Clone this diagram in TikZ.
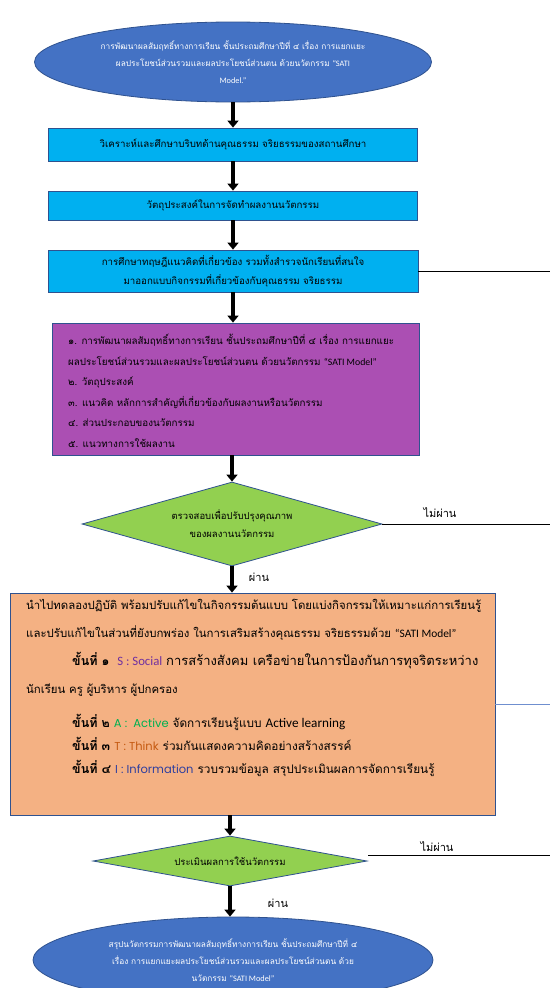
\documentclass[tikz,border=0pt]{standalone}
\usepackage{fontspec}
\setmainfont[Script=Thai]{Loma}
\newfontfamily\eng{Carlito}
\newfontfamily\engB[Scale=1.12]{Carlito}
\newfontfamily\geo{Poppins}
\usetikzlibrary{shapes.geometric,arrows.meta}
\definecolor{ellblue}{HTML}{4472C4}
\definecolor{edgeblue}{HTML}{2F528F}
\definecolor{cyanbox}{HTML}{00B0F0}
\definecolor{purplebox}{HTML}{AB4FB3}
\definecolor{greendia}{HTML}{92D050}
\definecolor{orangebox}{HTML}{F4B183}
\definecolor{socialc}{HTML}{7030A0}
\definecolor{activec}{HTML}{00B050}
\definecolor{thinkc}{HTML}{C55A11}
\definecolor{infoc}{HTML}{2F3F9F}
\definecolor{sideline}{HTML}{6F8FCF}
\newcommand\stepno[1]{{\fontsize{12.5}{23}\selectfont\textbf{ขั้นที่ #1}}}
\tikzset{
  ell/.style={ellipse, draw=edgeblue, line width=0.8pt, fill=ellblue, text=white, inner sep=0pt, align=center, font=\fontsize{8.3}{17}\selectfont},
  cbox/.style={rectangle, draw=edgeblue, line width=0.8pt, fill=cyanbox, inner sep=0pt, align=center, font=\fontsize{9.7}{19.5}\selectfont},
  pbox/.style={rectangle, draw=edgeblue, line width=0.8pt, fill=purplebox, inner sep=0pt},
  obox/.style={rectangle, draw=edgeblue, line width=0.8pt, fill=orangebox, inner sep=0pt},
  dia/.style={diamond, draw=edgeblue, line width=0.8pt, fill=greendia, inner sep=0pt, align=center, font=\fontsize{9.5}{18}\selectfont},
  arr/.style={-{Triangle[width=11pt,length=7pt]}, line width=3.5pt, black},
  sidel/.style={line width=0.8pt, black},
  lbl/.style={font=\fontsize{11}{13}\selectfont, inner sep=0pt}
}
\begin{document}
\begin{tikzpicture}[x=1pt,y=-1pt]
\useasboundingbox (0,0) rectangle (550,988);
\clip (0,0) rectangle (550,988);
\coordinate (edgeR) at (550,0);

\node[ell, minimum width=397pt, minimum height=80pt] (top) at (233,62)
 {การพัฒนาผลสัมฤทธิ์ทางการเรียน ชั้นประถมศึกษาปีที่ ๔ เรื่อง การแยกแยะ\\
  ผลประโยชน์ส่วนรวมและผลประโยชน์ส่วนตน ด้วยนวัตกรรม {\eng“SATI}\\
  {\eng Model.”}};

\node[cbox, minimum width=369pt, minimum height=33pt] (b1) at (233,144.5)
 {วิเคราะห์และศึกษาบริบทด้านคุณธรรม จริยธรรมของสถานศึกษา};
\node[cbox, minimum width=369pt, minimum height=29pt] (b2) at (233,205.5)
 {วัตถุประสงค์ในการจัดทำผลงานนวัตกรรม};
\node[cbox, minimum width=370pt, minimum height=42pt] (b3) at (233,271)
 {การศึกษาทฤษฎีแนวคิดที่เกี่ยวข้อง รวมทั้งสำรวจนักเรียนที่สนใจ\\
  มาออกแบบกิจกรรมที่เกี่ยวข้องกับคุณธรรม จริยธรรม};

\node[pbox, minimum width=367pt, minimum height=132pt] (pb) at (236,389) {};
\node[anchor=north west, align=left, inner sep=0pt, font=\fontsize{9.8}{20.6}\selectfont] (pt) at (68,334)
 {๑. การพัฒนาผลสัมฤทธิ์ทางการเรียน ชั้นประถมศึกษาปีที่ ๔ เรื่อง การแยกแยะ\\
  ผลประโยชน์ส่วนรวมและผลประโยชน์ส่วนตน ด้วยนวัตกรรม {\eng“SATI Model”}\\
  ๒. วัตถุประสงค์\\
  ๓. แนวคิด หลักการสำคัญที่เกี่ยวข้องกับผลงานหรือนวัตกรรม\\
  ๔. ส่วนประกอบของนวัตกรรม\\
  ๕. แนวทางการใช้ผลงาน};

\node[dia, minimum width=300pt, minimum height=84pt, aspect=3.57] (d1) at (232,524)
 {ตรวจสอบเพื่อปรับปรุงคุณภาพ\\ของผลงานนวัตกรรม};

\node[obox, minimum width=485pt, minimum height=222pt] (ob) at (252.5,704) {};
\node[anchor=north west, align=left, inner sep=0pt, font=\fontsize{11.4}{28}\selectfont] (ot1) at (26,599)
 {นำไปทดลองปฏิบัติ พร้อมปรับแก้ไขในกิจกรรมต้นแบบ โดยแบ่งกิจกรรมให้เหมาะแก่การเรียนรู้\\
  และปรับแก้ไขในส่วนที่ยังบกพร่อง ในการเสริมสร้างคุณธรรม จริยธรรมด้วย {\eng“SATI Model”}\\
  \hspace*{46pt}\stepno{๑}\ \ {\engB\color{socialc}S : Social} {\fontsize{13}{28}\selectfont การสร้างสังคม เครือข่ายในการป้องกันการทุจริตระหว่าง}\\
  นักเรียน ครู ผู้บริหาร ผู้ปกครอง};
\node[anchor=north west, align=left, inner sep=0pt, font=\fontsize{11.8}{23}\selectfont] (ot2) at (72,714)
 {\stepno{๒} {\geo\fontsize{11.5}{23}\selectfont\color{activec}A :\ \ Active} จัดการเรียนรู้แบบ {\engB Active learning}\\
  \stepno{๓} {\geo\fontsize{11.5}{23}\selectfont\color{thinkc}T : Think} ร่วมกันแสดงความคิดอย่างสร้างสรรค์\\
  \stepno{๔} {\geo\fontsize{11.5}{23}\selectfont\color{infoc}I : Information} รวบรวมข้อมูล สรุปประเมินผลการจัดการเรียนรู้};

\node[dia, minimum width=274pt, minimum height=50pt, aspect=5.48] (d2) at (230,861)
 {ประเมินผลการใช้นวัตกรรม};

\node[ell, minimum width=400pt, minimum height=86pt] (bot) at (233,960)
 {สรุปนวัตกรรมการพัฒนาผลสัมฤทธิ์ทางการเรียน ชั้นประถมศึกษาปีที่ ๔\\
  เรื่อง การแยกแยะผลประโยชน์ส่วนรวมและผลประโยชน์ส่วนตน ด้วย\\
  นวัตกรรม {\eng“SATI Model”}};

% arrows
\draw[arr] (top.south) -- (b1.north);
\draw[arr] (b1.south) -- (b2.north);
\draw[arr] (b2.south) -- (b3.north);
\draw[arr] (b3.south) -- (b3.south |- pb.north);
\draw[arr] (d1.north |- pb.south) -- (d1.north);
\draw[arr] (d1.south) -- (d1.south |- ob.north);
\draw[arr] (d2.north |- ob.south) -- (d2.north);
\draw[arr] (d2.south) -- (d2.south |- bot.north);

% side lines
\draw[sidel] (b3.east) -- (b3.east -| edgeR);
\draw[sidel] (d1.east) -- (d1.east -| edgeR);
\draw[line width=0.8pt, sideline] (ob.east) -- (ob.east -| edgeR);
\draw[sidel] ([xshift=1pt,yshift=6pt]d2.east) -- ([yshift=6pt]d2.east -| edgeR);

% labels
\node[lbl] (np1) at (440,513) {ไม่ผ่าน};
\node[lbl] (p1) at (259,577) {ผ่าน};
\node[lbl] (np2) at (437,847) {ไม่ผ่าน};
\node[lbl] (p2) at (278,903) {ผ่าน};
\end{tikzpicture}
\end{document}
